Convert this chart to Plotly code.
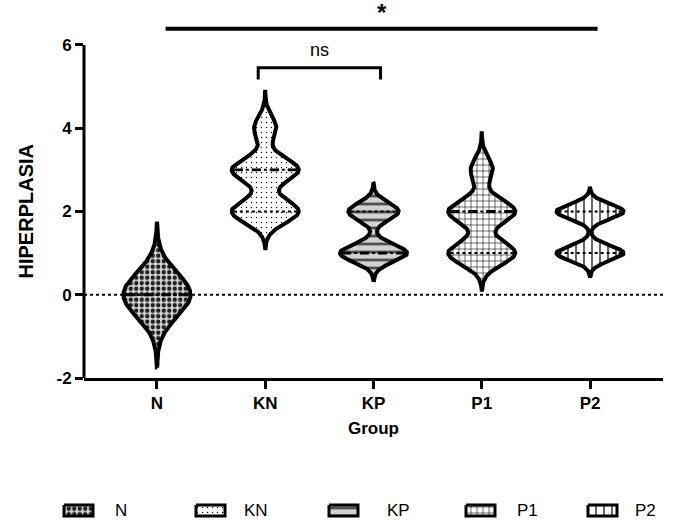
import numpy as np
import plotly.graph_objects as go

# Hyperplasia scores per group
groups = ["N", "KN", "KP", "P1", "P2"]
n_scores = [0, 0, 0, 0, 0, 0, 0]
kn_scores = [2, 2, 2, 3, 3, 3, 4]
kp_scores = [1, 1, 1, 1, 2, 2, 2]
p1_scores = [1, 1, 1, 2, 2, 2, 3]
p2_scores = [1, 1, 1, 2, 2, 2]
bandwidths = [0.53, 0.28, 0.21, 0.28, 0.18]

y_ticks = [-2, 0, 2, 4, 6]
y_tick_labels = ["-2", "0", "2", "4", "6"]

# Fill pattern per group
patterns = [
    dict(shape=".", fgcolor="#202020", bgcolor="#d6d6d6", size=5.5, solidity=0.5),
    dict(shape=".", fgcolor="#000000", bgcolor="#ffffff", size=5, solidity=0.06),
    dict(shape="-", fgcolor="#505050", bgcolor="#d2d2d2", size=8, solidity=0.35),
    dict(shape="+", fgcolor="#000000", bgcolor="#ffffff", size=6, solidity=0.18),
    dict(shape="|", fgcolor="#000000", bgcolor="#ffffff", size=8, solidity=0.15),
]

HALF_WIDTH = 0.31
CUT = 3.3
W, H = 673, 525
PLOT_L, PLOT_R, PLOT_T, PLOT_B = 84, 663, 0, 378


def kde_outline(data, bw, n=500):
    data = np.asarray(data, dtype=float)
    y = np.linspace(data.min() - CUT * bw, data.max() + CUT * bw, n)
    dens = np.exp(-0.5 * ((y[:, None] - data[None, :]) / bw) ** 2).sum(axis=1)
    return y, dens / dens.max()


fig = go.Figure()
all_scores = [n_scores, kn_scores, kp_scores, p1_scores, p2_scores]

for i, (name, scores, bw, pat) in enumerate(zip(groups, all_scores, bandwidths, patterns)):
    y, d = kde_outline(scores, bw)
    w = HALF_WIDTH * d
    xs = np.concatenate([i + w, (i - w)[::-1], [i + w[0]]])
    ys = np.concatenate([y, y[::-1], [y[0]]])
    fig.add_trace(go.Scatter(
        x=xs, y=ys, mode="lines", fill="toself", name=name, showlegend=False,
        line=dict(color="black", width=4),
        fillpattern=dict(fillmode="replace", **pat),
        hoverinfo="skip",
    ))
    med = float(np.median(scores))
    q1, q3 = np.percentile(scores, [25, 75], method="weibull")
    for q in (q1, q3):
        hw = float(np.interp(q, y, w)) - 0.02
        if hw > 0:
            fig.add_trace(go.Scatter(
                x=[i - hw, i + hw], y=[q, q], mode="lines", showlegend=False,
                line=dict(color="black", width=2, dash="dot"), hoverinfo="skip"))
    hw = float(np.interp(med, y, w)) - 0.02
    if hw > 0:
        fig.add_trace(go.Scatter(
            x=[i - hw, i + hw], y=[med, med], mode="lines", showlegend=False,
            line=dict(color="black", width=2.8, dash="dash"), hoverinfo="skip"))

# Legend drawn in a pixel-space overlay: patterned swatch + label per group
legend_swatch_x = [64, 196, 329, 466, 588]
legend_text_x = [113, 242, 385, 515, 633]
SW_W, SW_T, SW_B = 29, 505, 516
for name, pat, sx, tx in zip(groups, patterns, legend_swatch_x, legend_text_x):
    fig.add_trace(go.Scatter(
        x=[sx, sx + SW_W, sx + SW_W, sx, sx], y=[SW_T, SW_T, SW_B, SW_B, SW_T],
        mode="lines", fill="toself", showlegend=False, hoverinfo="skip",
        line=dict(color="black", width=3),
        fillpattern=dict(fillmode="replace", **pat),
        xaxis="x2", yaxis="y2",
    ))

shapes = [
    # left axis line, only over the tick range
    dict(type="line", xref="x domain", yref="y", x0=0, x1=0, y0=-2, y1=6,
         line=dict(color="black", width=3)),
    # dotted reference line at zero
    dict(type="line", xref="x domain", yref="y", x0=0, x1=1, y0=0, y1=0,
         line=dict(color="black", width=2, dash="dot"), layer="below"),
    # overall comparison bar
    dict(type="line", xref="x", yref="y", x0=0.08, x1=4.07, y0=6.39, y1=6.39,
         line=dict(color="black", width=4)),
    # KN vs KP bracket
    dict(type="path", xref="x", yref="y",
         path="M 0.935,5.17 L 0.935,5.45 L 2.065,5.45 L 2.065,5.17",
         line=dict(color="black", width=3)),
]

annotations = [
    dict(text="*", xref="x", yref="y", x=2.08, y=6.78, showarrow=False,
         font=dict(family="Liberation Sans", size=24, color="black", weight="bold")),
    dict(text="ns", xref="x", yref="y", x=1.5, y=5.88, showarrow=False,
         font=dict(family="Liberation Sans", size=18, color="black")),
    dict(text="HIPERPLASIA", xref="paper", yref="y", x=26 / W, y=2, showarrow=False,
         textangle=-90, xanchor="center", yanchor="middle",
         font=dict(family="Liberation Sans", size=20, color="black", weight="bold")),
    dict(text="Group", xref="x domain", yref="paper", x=0.5, y=1 - 428 / H, showarrow=False,
         xanchor="center", yanchor="middle",
         font=dict(family="Liberation Sans", size=17, color="black", weight="bold")),
]
for name, tx in zip(groups, legend_text_x):
    annotations.append(dict(
        text=name, xref="x2", yref="y2", x=tx, y=(SW_T + SW_B) / 2, showarrow=False,
        xanchor="left", yanchor="middle",
        font=dict(family="Liberation Sans", size=17, color="black")))

fig.update_layout(
    width=W, height=H,
    margin=dict(l=0, r=0, t=0, b=0, autoexpand=False),
    paper_bgcolor="white", plot_bgcolor="rgba(0,0,0,0)",
    shapes=shapes, annotations=annotations,
    showlegend=False,
    xaxis=dict(domain=[PLOT_L / W, PLOT_R / W], anchor="y", automargin=False,
               range=[-0.674, 4.674], tickvals=list(range(len(groups))), ticktext=groups,
               showline=True, linecolor="black", linewidth=3, showgrid=False, zeroline=False,
               ticks="outside", ticklen=8, tickwidth=3, tickcolor="black",
               tickfont=dict(family="Liberation Sans", size=17, color="black", weight="bold")),
    yaxis=dict(domain=[1 - PLOT_B / H, 1 - PLOT_T / H], anchor="x", automargin=False,
               range=[-2, 7.08], tickvals=y_ticks, ticktext=y_tick_labels,
               showline=False, showgrid=False,
               zeroline=False, ticks="outside", ticklen=8, tickwidth=3, tickcolor="black",
               tickfont=dict(family="Liberation Sans", size=17, color="black", weight="bold")),
    xaxis2=dict(domain=[0, 1], anchor="y2", range=[0, W], visible=False,
                fixedrange=True, automargin=False),
    yaxis2=dict(domain=[0, 1], anchor="x2", range=[H, 0], visible=False,
                fixedrange=True, automargin=False),
)

fig.write_html("out.html")
